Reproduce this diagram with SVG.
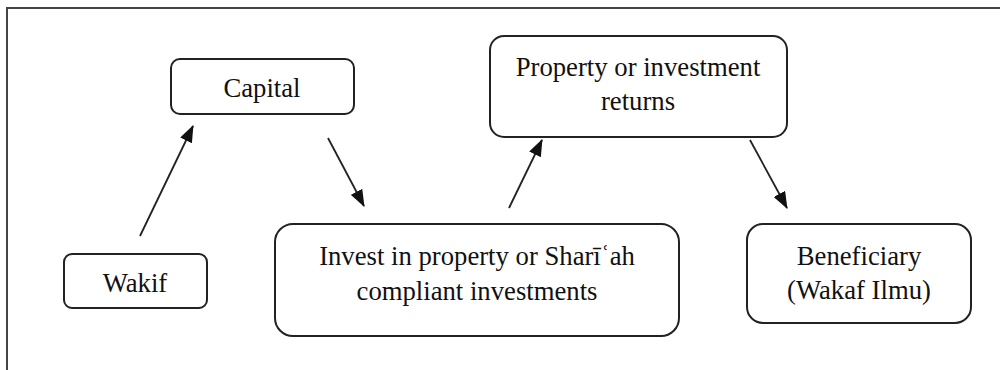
<svg xmlns="http://www.w3.org/2000/svg" width="1000" height="370" viewBox="0 0 1000 370">
<defs>
<style>
.box{fill:#fff;stroke:#222;stroke-width:2}
.t{font-family:"Liberation Serif","Times New Roman",serif;font-size:26.7px;fill:#111;text-anchor:middle}
.c{stroke:#222;stroke-width:1.8;fill:none}
.frame{stroke:#444;stroke-width:2;fill:none}
</style>
<marker id="ah" markerWidth="17" markerHeight="13" refX="16" refY="6.5" orient="auto" markerUnits="userSpaceOnUse">
<path d="M0,0 L17,6.5 L0,13 Z" fill="#111"/>
</marker>
</defs>
<rect width="1000" height="370" fill="#fff"/>
<path class="frame" d="M7,370 V8 H1000"/>
<g id="capital"><rect class="box" x="171" y="59" width="183" height="55" rx="9"/><text class="t" x="262" y="97">Capital</text></g>
<g id="returns"><rect class="box" x="490" y="36" width="297" height="101" rx="14"/><text class="t" x="638" y="76">Property or investment</text><text class="t" x="638" y="110">returns</text></g>
<g id="wakif"><rect class="box" x="64" y="254" width="143" height="54" rx="8"/><text class="t" x="135" y="292">Wakif</text></g>
<g id="invest"><rect class="box" x="275" y="224" width="404" height="112" rx="18"/><text class="t" x="477" y="265">Invest in property or Sharīʿah</text><text class="t" x="477" y="300">compliant investments</text></g>
<g id="beneficiary"><rect class="box" x="747" y="224" width="224" height="99" rx="16"/><text class="t" x="859" y="265">Beneficiary</text><text class="t" x="859" y="299">(Wakaf Ilmu)</text></g>
<g id="connectors">
<line class="c" x1="140" y1="236" x2="193" y2="126" marker-end="url(#ah)"/>
<line class="c" x1="328" y1="138" x2="364" y2="206" marker-end="url(#ah)"/>
<line class="c" x1="509" y1="208" x2="542" y2="140" marker-end="url(#ah)"/>
<line class="c" x1="750" y1="140" x2="787" y2="208" marker-end="url(#ah)"/>
</g>
</svg>
